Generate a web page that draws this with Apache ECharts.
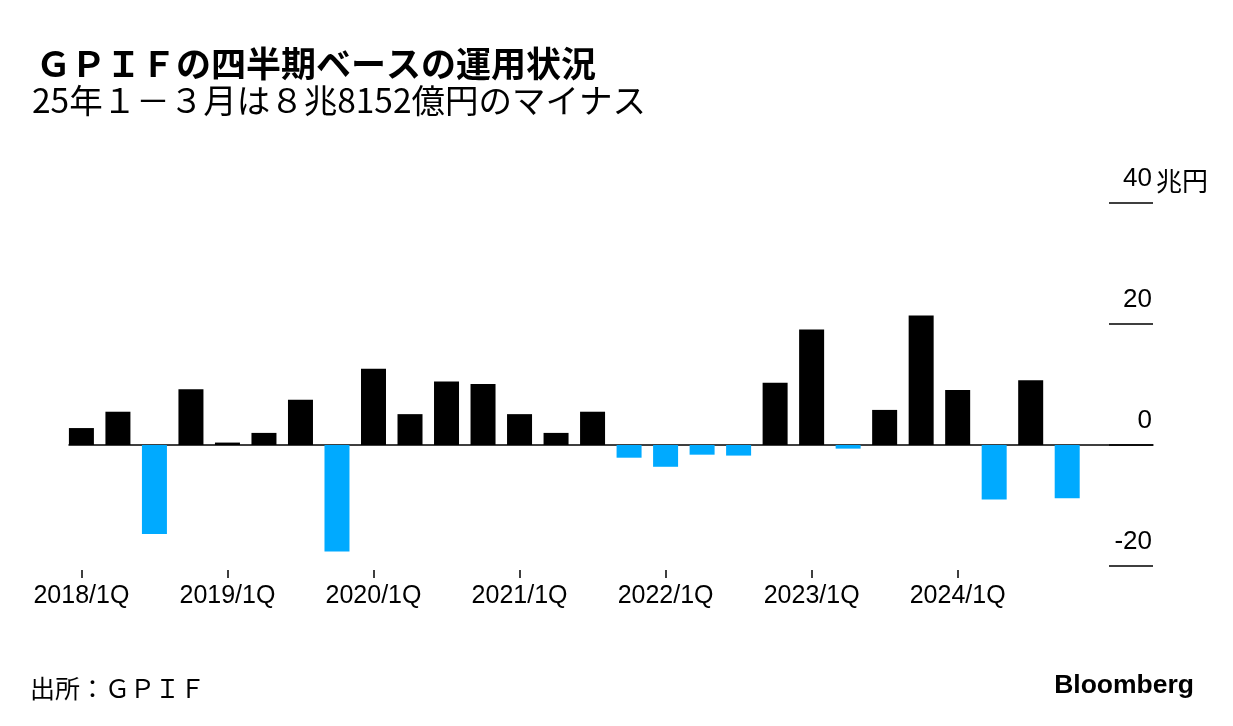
<!DOCTYPE html>
<html>
<head>
<meta charset="utf-8">
<script src="https://cdn.jsdelivr.net/npm/echarts@6/dist/echarts.min.js"></script>
<style>
html,body{margin:0;padding:0;background:#fff;}
#c{width:1233px;height:726px;}
</style>
</head>
<body>
<div id="c"></div>
<script>
// Quarterly GPIF investment result (兆円), fiscal quarters
const quarters = [
  '2018/1Q','2018/2Q','2018/3Q','2018/4Q',
  '2019/1Q','2019/2Q','2019/3Q','2019/4Q',
  '2020/1Q','2020/2Q','2020/3Q','2020/4Q',
  '2021/1Q','2021/2Q','2021/3Q','2021/4Q',
  '2022/1Q','2022/2Q','2022/3Q','2022/4Q',
  '2023/1Q','2023/2Q','2023/3Q','2023/4Q',
  '2024/1Q','2024/2Q','2024/3Q','2024/4Q'
];
const values = [
  2.8, 5.5, -14.7, 9.2,
  0.4, 2.0, 7.5, -17.6,
  12.6, 5.1, 10.5, 10.1,
  5.1, 2.0, 5.5, -2.1,
  -3.6, -1.6, -1.75, 10.3,
  19.1, -0.6, 5.8, 21.4,
  9.1, -9.0, 10.7, -8.8
];
const tickQuarters = ['2018/1Q','2019/1Q','2020/1Q','2021/1Q','2022/1Q','2023/1Q','2024/1Q'];
const yTickValues = [-20, 0, 20, 40];

const titleText = 'ＧＰＩＦの四半期ベースの運用状況';
const subtitleText = '25年１－３月は８兆8152億円のマイナス';
const sourceText = '出所：ＧＰＩＦ';
const unitText = '兆円';

const POS = '#000000';
const NEG = '#00aaff';
const latin = "'Liberation Sans', 'Noto Sans CJK JP', sans-serif";
const cjk = "'Noto Sans CJK JP', 'Liberation Sans', sans-serif";

const tickIdx = tickQuarters.map(q => quarters.indexOf(q));
const xMin = -0.34, xMax = 29.35;

const chart = echarts.init(document.getElementById('c'), null, {renderer: 'canvas'});
chart.setOption({
  backgroundColor: '#ffffff',
  animation: false,
  title: [
    {text: titleText, left: 31, top: 41,
     textStyle: {fontFamily: cjk, fontSize: 35, fontWeight: 'bold', color: '#000'}},
    {text: subtitleText, left: 27, top: 79,
     textStyle: {fontFamily: cjk, fontSize: 33.5, fontWeight: 'normal', color: '#000'}},
    {text: unitText, left: 1151, top: 163,
     textStyle: {fontFamily: cjk, fontSize: 26, fontWeight: 'normal', color: '#000'}},
    {text: sourceText, left: 25, top: 671,
     textStyle: {fontFamily: cjk, fontSize: 25, fontWeight: 'normal', color: '#000'}},
    {text: 'Bloomberg', right: 34, top: 667,
     textStyle: {fontFamily: latin, fontSize: 26.5, fontWeight: 'bold', color: '#000'}}
  ],
  grid: {left: 69, right: 80, top: 203, bottom: 160, containLabel: false},
  xAxis: [
    {
      type: 'value', min: xMin, max: xMax, position: 'bottom', offset: 4,
      axisLine: {show: false, onZero: false},
      splitLine: {show: false},
      axisTick: {show: true, customValues: tickIdx, length: 8, lineStyle: {color: '#000', width: 1.5}},
      axisLabel: {show: true, customValues: tickIdx, formatter: v => quarters[Math.round(v)],
        margin: 14, fontSize: 25, fontFamily: latin, color: '#000'}
    },
    {
      type: 'value', min: xMin, max: xMax, position: 'top',
      axisLine: {show: true, onZero: true, lineStyle: {color: '#000', width: 1.5}},
      axisTick: {show: false},
      axisLabel: {show: false},
      splitLine: {show: false}
    }
  ],
  yAxis: {
    type: 'value', position: 'right',
    min: yTickValues[0], max: yTickValues[yTickValues.length - 1], interval: 20,
    axisLine: {show: false, onZero: false},
    splitLine: {show: false},
    axisTick: {show: true, inside: true, length: 44, lineStyle: {color: '#000', width: 1.5}},
    axisLabel: {inside: true, margin: 1, verticalAlign: 'bottom', padding: [0, 0, 11, 0],
      fontSize: 26, fontFamily: latin, color: '#000'}
  },
  series: [{
    type: 'bar',
    xAxisIndex: 0,
    barWidth: 25,
    data: values.map((v, i) => [i, v]),
    itemStyle: {color: p => (p.value[1] < 0 ? NEG : POS)}
  }]
});
</script>
</body>
</html>
